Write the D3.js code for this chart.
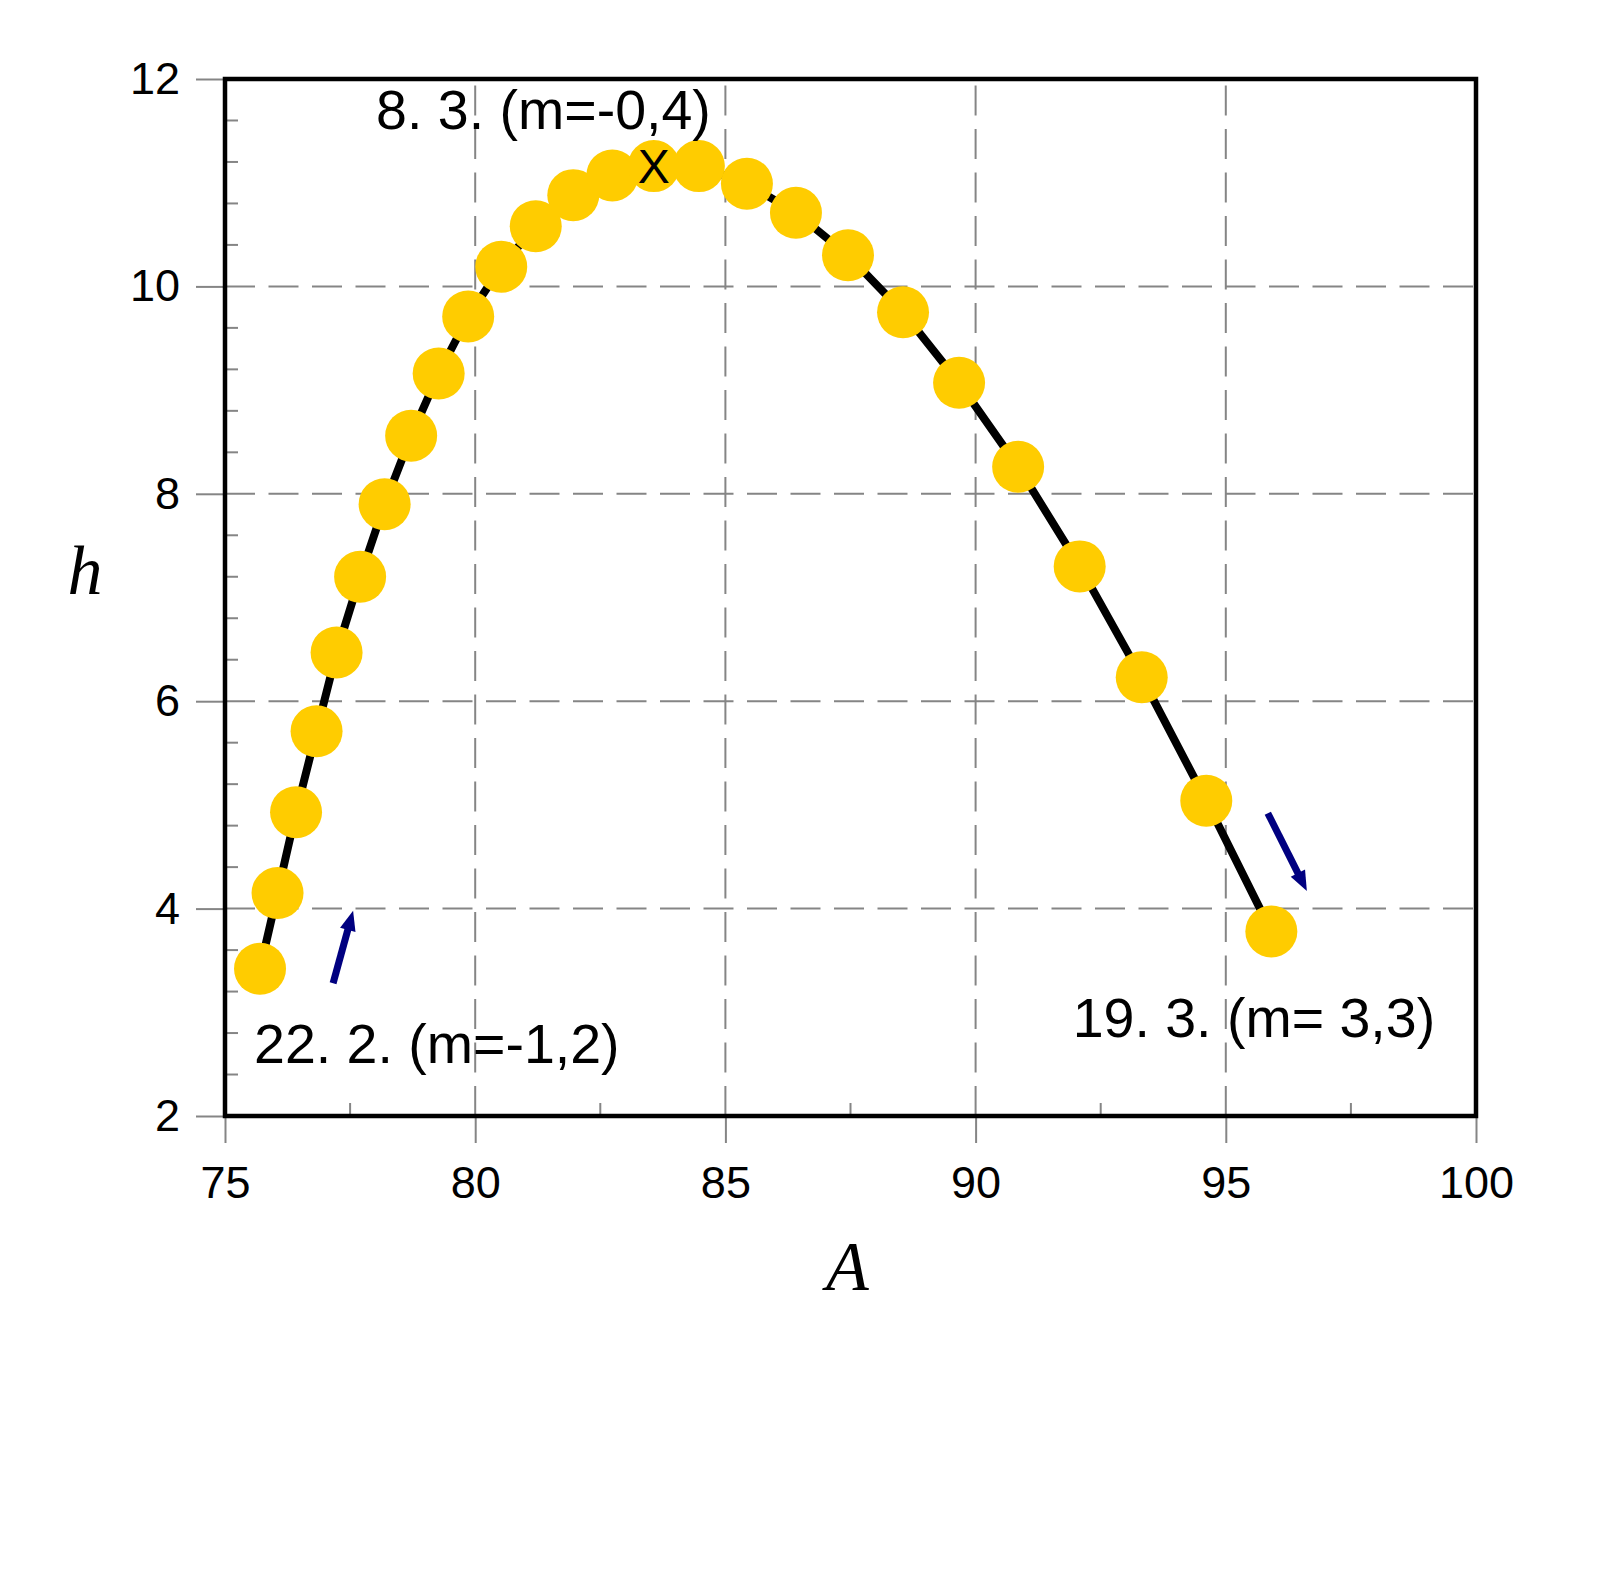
<!DOCTYPE html>
<html>
<head>
<meta charset="utf-8">
<script src="https://cdn.jsdelivr.net/npm/d3@7"></script>
<style>
html,body{margin:0;padding:0;background:#fff;}
svg{display:block;}
</style>
</head>
<body>
<svg id="chart" width="1600" height="1573"></svg>
<script>
// Data
const aValues = [75.70, 76.05, 76.42, 76.83, 77.23, 77.70, 78.19, 78.72, 79.27, 79.86, 80.52, 81.21, 81.96, 82.74, 83.57, 84.47, 85.43, 86.41, 87.45, 88.55, 89.67, 90.85, 92.08, 93.32, 94.61, 95.91];
const hValues = [3.42, 4.15, 4.93, 5.71, 6.47, 7.20, 7.90, 8.56, 9.16, 9.71, 10.19, 10.58, 10.88, 11.07, 11.16, 11.16, 10.99, 10.71, 10.30, 9.75, 9.07, 8.26, 7.30, 6.23, 5.04, 3.78];
const xTicks = [75, 80, 85, 90, 95, 100];
const yTicks = [2, 4, 6, 8, 10, 12];
const xMinor = [77.5, 82.5, 87.5, 92.5, 97.5];
const yMinor = [2.4, 2.8, 3.2, 3.6, 4.4, 4.8, 5.2, 5.6, 6.4, 6.8, 7.2, 7.6, 8.4, 8.8, 9.2, 9.6, 10.4, 10.8, 11.2, 11.6];
const labels = [
  {text: "8. 3. (m=-0,4)", a: 78.02, h: 11.52},
  {text: "22. 2. (m=-1,2)", a: 75.58, h: 2.51},
  {text: "19. 3. (m= 3,3)", a: 91.94, h: 2.76}
];
const markIndex = 14; // "X" marks this point
const arrows = [
  {a0: 77.16, h0: 3.28, a1: 77.56, h1: 3.98},
  {a0: 95.84, h0: 4.92, a1: 96.62, h1: 4.17}
];

const svg = d3.select("#chart");
const L = 225, R = 1476, T = 79, B = 1116;
const x = d3.scaleLinear().domain([75, 100]).range([L, R]);
const y = d3.scaleLinear().domain([2, 12]).range([B, T]);
const grid = "#858585";

// gridlines
svg.append("g").selectAll("line").data(yTicks.slice(1, -1)).join("line")
  .attr("x1", L).attr("x2", R).attr("y1", d => y(d)).attr("y2", d => y(d))
  .attr("stroke", grid).attr("stroke-width", 2).attr("stroke-dasharray", "30,13.5");
svg.append("g").selectAll("line").data(xTicks.slice(1, -1)).join("line")
  .attr("x1", d => x(d)).attr("x2", d => x(d)).attr("y1", B).attr("y2", T)
  .attr("stroke", grid).attr("stroke-width", 2).attr("stroke-dasharray", "30,13.5");

// axes
const yAxis = d3.axisLeft(y).tickValues(yTicks).tickSize(29).tickPadding(16).tickFormat(d3.format("d"));
const gy = svg.append("g").attr("transform", `translate(${L},0)`).call(yAxis);
const xAxis = d3.axisBottom(x).tickValues(xTicks).tickSize(27).tickPadding(23).tickFormat(d3.format("d"));
const gx = svg.append("g").attr("transform", `translate(0,${B})`).call(xAxis);
[gx, gy].forEach(g => {
  g.select(".domain").remove();
  g.selectAll(".tick line").attr("stroke", grid).attr("stroke-width", 2);
  g.selectAll(".tick text").attr("fill", "#000").style("font-family", "'Liberation Sans', Arial, sans-serif").style("font-size", "45px");
});

// minor ticks (inward)
svg.append("g").selectAll("line").data(yMinor).join("line")
  .attr("x1", L).attr("x2", L + 13).attr("y1", d => y(d)).attr("y2", d => y(d))
  .attr("stroke", grid).attr("stroke-width", 2);
svg.append("g").selectAll("line").data(xMinor).join("line")
  .attr("x1", d => x(d)).attr("x2", d => x(d)).attr("y1", B).attr("y2", B - 13)
  .attr("stroke", grid).attr("stroke-width", 2);

// frame
svg.append("rect").attr("x", x(75)).attr("y", y(12)).attr("width", x(100) - x(75)).attr("height", y(2) - y(12))
  .attr("fill", "none").attr("stroke", "#000").attr("stroke-width", 4.5);

// line + points
const pts = aValues.map((a, i) => ({a, h: hValues[i]}));
svg.append("path").datum(pts)
  .attr("d", d3.line().x(d => x(d.a)).y(d => y(d.h)))
  .attr("fill", "none").attr("stroke", "#000").attr("stroke-width", 8).attr("stroke-linejoin", "round");
svg.append("g").selectAll("circle").data(pts).join("circle")
  .attr("cx", d => x(d.a)).attr("cy", d => y(d.h)).attr("r", 26).attr("fill", "#ffcc00");

// X marker
svg.append("text").attr("x", x(pts[markIndex].a)).attr("y", y(pts[markIndex].h) + 17)
  .attr("text-anchor", "middle").style("font-family", "'Liberation Sans', Arial, sans-serif").style("font-size", "48px").text("X");

// arrows
arrows.forEach(ar => {
  const x0 = x(ar.a0), y0 = y(ar.h0), x1 = x(ar.a1), y1 = y(ar.h1);
  const ang = Math.atan2(y1 - y0, x1 - x0);
  const hl = 20, hw = 8;
  const bx = x1 - hl * Math.cos(ang), by = y1 - hl * Math.sin(ang);
  svg.append("line").attr("x1", x0).attr("y1", y0).attr("x2", bx + 2 * Math.cos(ang)).attr("y2", by + 2 * Math.sin(ang))
    .attr("stroke", "#000080").attr("stroke-width", 7);
  const px = -Math.sin(ang), py = Math.cos(ang);
  svg.append("path")
    .attr("d", `M${x1},${y1}L${bx + hw * px},${by + hw * py}L${bx - hw * px},${by - hw * py}Z`)
    .attr("fill", "#000080");
});

// annotation labels
svg.append("g").selectAll("text").data(labels).join("text")
  .attr("x", d => x(d.a)).attr("y", d => y(d.h))
  .style("font-family", "'Liberation Sans', Arial, sans-serif").style("font-size", "55.5px")
  .text(d => d.text);

// axis titles
svg.append("text").attr("x", (L + R) / 2 - 3).attr("y", 1290).attr("text-anchor", "middle")
  .style("font-family", "'Liberation Serif', 'DejaVu Serif', serif").style("font-style", "italic").style("font-size", "70px").text("A");
svg.append("text").attr("x", 85).attr("y", 594).attr("text-anchor", "middle")
  .style("font-family", "'Liberation Serif', 'DejaVu Serif', serif").style("font-style", "italic").style("font-size", "70px").text("h");
</script>
</body>
</html>
